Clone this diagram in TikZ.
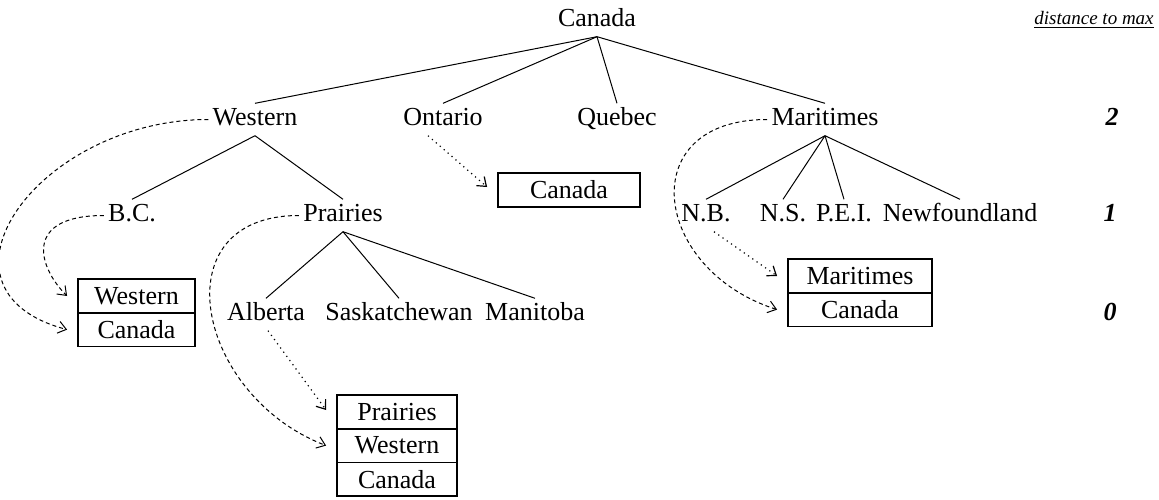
\documentclass[tikz,border=0pt]{standalone}
\usepackage{fontspec}
\setmainfont{Liberation Serif}
\usetikzlibrary{positioning,arrows.meta}
\begin{document}
\begin{tikzpicture}[x=0.5pt,y=-0.5pt,
                    font=\fontsize{13}{15}\selectfont,
                    place/.style = {inner sep=2pt,text height=9pt,text depth=2.8pt},
                    cell/.style = {draw,line width=0.9pt,inner sep=1pt,minimum height=16.8pt},
                    branch/.style = {line width=0.5pt},
                    link/.style = {line width=0.5pt,dash pattern=on 2pt off 1.5pt,-{Straight Barb[length=4pt,width=6pt]}},
                    hop/.style = {line width=0.6pt,dotted,-{Straight Barb[length=4pt,width=6pt]}}]
                    \useasboundingbox (0,0) rectangle (1159,499);

                    % the tree
                    \node [place] (can) at (597,20.5) {Canada};
                    \node [place] (wes) at (255,119.5) {Western};
                    \node [place] (ont) at (443,119.5) {Ontario};
                    \node [place] (que) at (617,119.5) {Quebec};
                    \node [place] (mar) at (825,119.5) {Maritimes};

                    \node [place] (bc)  at (132,215.5) {B.C.};
                    \node [place] (pra) at (343,215.5) {Prairies};
                    \node [place] (nb)  at (706,215.5) {N.B.};
                    \node [place] (ns)  at (783,215.5) {N.S.};
                    \node [place] (pei) at (844,215.5) {P.E.I.};
                    \node [place] (nfl) at (960,215.5) {Newfoundland};

                    \node [place] (alb) at (266,314.5) {Alberta};
                    \node [place] (sas) at (399,314.5) {Saskatchewan};
                    \node [place] (man) at (535,314.5) {Manitoba};

                    \foreach \kid in {wes,ont,que,mar}
                        \draw [branch] (can.south) -- (\kid.north);
                    \foreach \kid in {bc,pra}
                        \draw [branch] (wes.south) -- (\kid.north);
                    \foreach \kid in {alb,sas,man}
                        \draw [branch] (pra.south) -- (\kid.north);
                    \foreach \kid in {nb,ns,pei,nfl}
                        \draw [branch] (mar.south) -- (\kid.north);

                    % distance column
                    \node [inner sep=2pt,font=\fontsize{9.5}{11}\selectfont\itshape] (dist) at (1094,20) {\underline{distance to max}};
                    \node [place] (d2) at (1112,119.5) {\bfseries\itshape 2};
                    \node [place] (d1) at (1110,215.5) {\bfseries\itshape 1};
                    \node [place] (d0) at (1110,314.5) {\bfseries\itshape 0};

                    % stacks
                    \node [cell,minimum width=71pt] (ontcan) at (569,190) {Canada};

                    \node [cell,minimum width=58.5pt] (wwes) at (136.5,296) {Western};
                    \node [cell,minimum width=58.5pt,below=-0.9pt of wwes] (wcan) {Canada};

                    \node [cell,minimum width=72pt] (mmar) at (860,276) {Maritimes};
                    \node [cell,minimum width=72pt,below=-0.9pt of mmar] (mcan) {Canada};

                    \node [cell,minimum width=60pt] (ppra) at (397,412) {Prairies};
                    \node [cell,minimum width=60pt,below=-0.9pt of ppra] (pwes) {Western};
                    \node [cell,minimum width=60pt,below=-0.9pt of pwes] (pcan) {Canada};

                    % pointers
                    \draw [hop] ([xshift=-7.5pt]ont.south) -- ([xshift=-5pt,yshift=1.5pt]ontcan.west);
                    \draw [hop] ([xshift=1pt]alb.south) -- ([xshift=-5pt,yshift=1pt]ppra.west);
                    \draw [hop] ([xshift=4pt]nb.south) -- ([xshift=-5pt]mmar.west);

                    \draw [link] (wes.west) .. controls +(-170,0) and +(-150,-40) .. ([xshift=-5pt]wcan.west);
                    \draw [link] (bc.west) .. controls +(-80,0) and +(-30,-30) .. ([xshift=-5pt]wwes.west);
                    \draw [link] (pra.west) .. controls +(-140,0) and +(-130,-50) .. ([xshift=-5pt]pwes.west);
                    \draw [link] (mar.west) .. controls +(-135,0) and +(-125,-40) .. ([xshift=-5pt]mcan.west);
                \end{tikzpicture}
\end{document}
